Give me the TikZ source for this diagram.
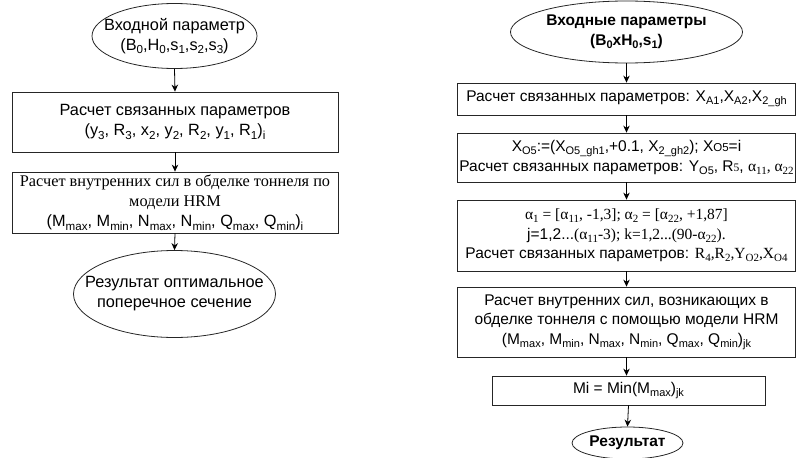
\documentclass[tikz,border=0pt]{standalone}
\usepackage{fontspec}
\setmainfont{Liberation Sans}
\newfontfamily\tms{Liberation Serif}
\usetikzlibrary{shapes.geometric,arrows.meta}
\newcommand\lsub[1]{\raisebox{-0.4ex}{\fontsize{11}{11}\selectfont #1}}
\newcommand\lsml[1]{{\fontsize{11.5}{11}\selectfont #1}}
\newcommand\lsubb[1]{\raisebox{-0.4ex}{\fontsize{11.6}{11}\selectfont #1}}
\begin{document}
\begin{tikzpicture}[x=1pt,y=-1pt,
  every node/.style={font=\fontsize{15.5}{19.5}\selectfont, inner sep=0pt, align=center},
  leftfont/.style={font=\fontsize{16.3}{20}\selectfont},
  boxs/.style={draw=black!85, line width=0.8pt, rectangle},
  ells/.style={draw=black!85, line width=0.8pt, ellipse},
  arr/.style={-{Stealth[length=7pt,width=6.5pt]}, line width=0.8pt}]
\useasboundingbox (0,0) rectangle (796,458);
% left column
\node[ells, minimum width=165pt, minimum height=65pt] (le1) at (174.5,36) {};
\node[leftfont] at (le1) {Входной параметр\\(B\lsubb{0},H\lsubb{0},s\lsubb{1},s\lsubb{2},s\lsubb{3})};
\node[boxs, leftfont, minimum width=326pt, minimum height=60pt] (lb1) at (175,122)
  {Расчет связанных параметров\\(y\lsubb{3}, R\lsubb{3}, x\lsubb{2}, y\lsubb{2}, R\lsubb{2}, y\lsubb{1}, R\lsubb{1})\lsubb{i}};
\node[boxs, leftfont, minimum width=326pt, minimum height=61pt] (lb2) at (175,202.5)
  {{\tms Расчет внутренних сил в обделке тоннеля по}\\{\tms модели HRM}\\(M\lsubb{max}, M\lsubb{min}, N\lsubb{max}, N\lsubb{min}, Q\lsubb{max}, Q\lsubb{min})\lsubb{i}};
\node[ells, minimum width=202pt, minimum height=87pt] (le2) at (174.5,294) {};
\node[leftfont] at (le2) {Результат оптимальное\\поперечное сечение};
\draw[arr] (le1.south) -- (lb1.north);
\draw[arr] (lb1.south) -- (lb2.north);
\draw[arr] (lb2.south) -- (le2.north);
% right column
\node[ells, minimum width=232pt, minimum height=62pt] (re1) at (626.5,32) {};
\node[font=\fontsize{15.5}{20}\selectfont\bfseries] at (re1) {Входные параметры\\(B\lsub{0}xH\lsub{0},s\lsub{1})};
\node[boxs, minimum width=338pt, minimum height=32pt] (rb1) at (626.5,99)
  {Расчет связанных параметров: X\lsub{A1},X\lsub{A2},X\lsub{2\_gh}};
\node[boxs, minimum width=338pt, minimum height=49pt] (rb2) at (626.5,157.5)
  {X\lsub{O5}:=(X\lsub{O5\_gh1},+0.1, X\lsub{2\_gh2}); X\lsml{O5}=i\\Расчет связанных параметров: Y\lsub{O5}, R{\tms\lsml{5}}, {\tms α\lsub{11}, α\lsub{22}}};
\node[boxs, minimum width=338pt, minimum height=71pt] (rb3) at (626.5,235.5)
  {{\tms α\lsub{1} = [α\lsub{11}, -1,3]; α\lsub{2} = [α\lsub{22}, +1,87]}\\j=1,2...{\tms(α\lsub{11}-3); k=1,2...(90-α\lsub{22}).}\\Расчет связанных параметров: {\tms R\lsub{4},R\lsub{2},Y\lsub{O2},X\lsub{O4}}};
\node[boxs, minimum width=338pt, minimum height=70pt] (rb4) at (626.5,322)
  {Расчет внутренних сил, возникающих в\\обделке тоннеля с помощью модели HRM\\(M\lsub{max}, M\lsub{min}, N\lsub{max}, N\lsub{min}, Q\lsub{max}, Q\lsub{min})\lsub{jk}};
\node[boxs, minimum width=273pt, minimum height=29pt] (rb5) at (628.5,390.5)
  {Mi = Min(M\lsub{max})\lsub{jk}};
\node[ells, minimum width=111pt, minimum height=32pt] (re2) at (627.5,443) {};
\node[font=\fontsize{15.5}{20}\selectfont\bfseries] at (re2) {Результат};
\draw[arr] (re1.south) -- (re1.south |- rb1.north);
\draw[arr] (rb1.south) -- (rb2.north);
\draw[arr] (rb2.south) -- (rb3.north);
\draw[arr] (rb3.south) -- (rb4.north);
\draw[arr] (rb4.south) -- (rb4.south |- rb5.north);
\draw[arr] (rb5.south) -- (re2.north);
\end{tikzpicture}
\end{document}
